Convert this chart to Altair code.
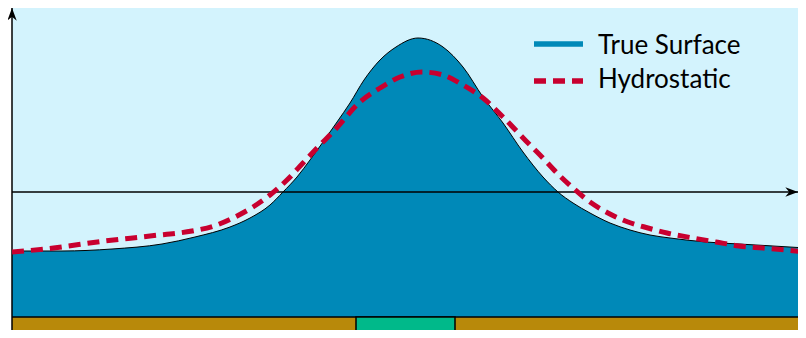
import altair as alt
import pandas as pd

# ---- data (x: horizontal distance, y: elevation relative to still-water level) ----
surf_x = [0, 50, 100, 150, 183, 218, 238, 258, 271, 285, 298, 311, 325, 338, 352, 368, 384,
          406, 431, 451, 471, 491, 511, 531, 546, 561, 578, 598, 618, 638, 658, 694, 727,
          761, 794]
surf_y = [-59, -59, -57, -52, -45, -35, -26, -13, 0, 15, 32, 50, 70, 89, 112, 132, 145,
          154, 145, 125, 95, 69, 40, 15, 0, -11, -21, -31, -38, -43, -46, -50, -52,
          -54, -56]

hyd_x = [0, 33, 93, 138, 180, 202, 221, 241, 258, 275, 291, 306, 321, 348, 368, 388, 410,
         431, 451, 471, 491, 518, 528, 545, 561, 578, 596, 616, 636, 655, 681, 704,
         727, 751, 774, 794]
hyd_y = [-60, -57, -49, -44, -39, -34, -26, -15, -3, 12, 29, 45, 60, 90, 104, 115, 120,
         117, 107, 94, 75, 47, 37, 19, 4, -10, -21, -30, -36, -41, -46, -50,
         -54, -56, -58, -60]

x_min, x_max = 0, 786
y_min, y_max = -138, 184
bed_level = -125
box_x = [344, 443]
box_y = [-140, -125]
labels = ["True Surface", "Hydrostatic"]

WATER = "#0089B8"
SKY = "#D3F3FD"
RED = "#C8002F"
BROWN = "#B8890A"
GREEN = "#00B98A"

xs = alt.Scale(domain=[x_min, x_max], nice=False, zero=False)
ys = alt.Scale(domain=[y_min, y_max], nice=False, zero=False)

surf = pd.DataFrame({"x": surf_x, "y": surf_y, "bed": bed_level})
hyd = pd.DataFrame({"x": hyd_x, "y": hyd_y})

water = alt.Chart(surf).mark_area(color=WATER, interpolate="monotone", clip=True).encode(
    x=alt.X("x:Q", scale=xs, axis=None),
    y=alt.Y("y:Q", scale=ys, axis=None),
    y2="bed:Q",
)
surface_line = alt.Chart(surf).mark_line(color="black", strokeWidth=1, interpolate="monotone", clip=True).encode(
    x=alt.X("x:Q", scale=xs, axis=None),
    y=alt.Y("y:Q", scale=ys, axis=None),
)
hydro_line = alt.Chart(hyd).mark_line(color=RED, strokeWidth=5, strokeDash=[12, 7],
                                      strokeCap="butt", interpolate="monotone", clip=True).encode(
    x=alt.X("x:Q", scale=xs, axis=None),
    y=alt.Y("y:Q", scale=ys, axis=None),
)

ground = pd.DataFrame({"x": [x_min], "x2": [x_max], "y": [y_min], "y2": [bed_level]})
ground_rect = alt.Chart(ground).mark_rect(color=BROWN).encode(
    x=alt.X("x:Q", scale=xs, axis=None), x2="x2:Q",
    y=alt.Y("y:Q", scale=ys, axis=None), y2="y2:Q",
)
bed_line = alt.Chart(ground).mark_rule(color="black", strokeWidth=1.5).encode(
    x=alt.X("x:Q", scale=xs, axis=None), x2="x2:Q",
    y=alt.Y("y2:Q", scale=ys, axis=None),
)
box = pd.DataFrame({"x": [box_x[0]], "x2": [box_x[1]], "y": [box_y[0]], "y2": [box_y[1]]})
box_rect = alt.Chart(box).mark_rect(color=GREEN, stroke="black", strokeWidth=1.5, clip=True).encode(
    x=alt.X("x:Q", scale=xs, axis=None), x2="x2:Q",
    y=alt.Y("y:Q", scale=ys, axis=None), y2="y2:Q",
)

axes = pd.DataFrame({"x": [x_min, x_min], "x2": [x_max, x_min], "y": [0, y_min], "y2": [0, y_max]})
axis_lines = alt.Chart(axes).mark_rule(color="black", strokeWidth=1.5).encode(
    x=alt.X("x:Q", scale=xs, axis=None), x2="x2:Q",
    y=alt.Y("y:Q", scale=ys, axis=None), y2="y2:Q",
)
arrow_r = alt.Chart(pd.DataFrame({"x": [x_max], "y": [0]})).mark_point(
    shape="M 0 0 L -2 -0.75 L -1.4 0 L -2 0.75 Z", size=160, filled=True, color="black", opacity=1
).encode(x=alt.X("x:Q", scale=xs, axis=None), y=alt.Y("y:Q", scale=ys, axis=None))
arrow_u = alt.Chart(pd.DataFrame({"x": [x_min], "y": [y_max]})).mark_point(
    shape="M 0 0 L -0.75 2 L 0 1.4 L 0.75 2 Z", size=160, filled=True, color="black", opacity=1
).encode(x=alt.X("x:Q", scale=xs, axis=None), y=alt.Y("y:Q", scale=ys, axis=None))

# ---- legend (drawn manually, pixel layout) ----
leg = pd.DataFrame({"label": labels})
leg_blue = alt.Chart(leg).mark_rule(color=WATER, strokeWidth=5, strokeCap="butt").encode(
    x=alt.value(522), x2=alt.value(571), y=alt.value(36))
leg_red = alt.Chart(leg).mark_rule(color=RED, strokeWidth=5, strokeDash=[12, 7], strokeCap="butt").encode(
    x=alt.value(522), x2=alt.value(571), y=alt.value(73))
leg_t1 = alt.Chart(pd.DataFrame({"label": [labels[0]]})).mark_text(
    align="left", baseline="alphabetic", font="Lato", fontSize=26, color="black").encode(
    x=alt.value(586), y=alt.value(46), text="label:N")
leg_t2 = alt.Chart(pd.DataFrame({"label": [labels[1]]})).mark_text(
    align="left", baseline="alphabetic", font="Lato", fontSize=26, color="black").encode(
    x=alt.value(586), y=alt.value(80), text="label:N")

chart = alt.layer(
    water, surface_line, ground_rect, bed_line, box_rect, axis_lines, hydro_line,
    arrow_r, arrow_u, leg_blue, leg_red, leg_t1, leg_t2,
).properties(
    width=786, height=322,
    padding={"left": 4, "top": 0, "right": 0, "bottom": 0},
    autosize=alt.AutoSizeParams(type="none"),
).configure_view(fill=SKY, strokeWidth=0)

chart.save("out.html", embed_options={"renderer": "svg", "actions": False})
